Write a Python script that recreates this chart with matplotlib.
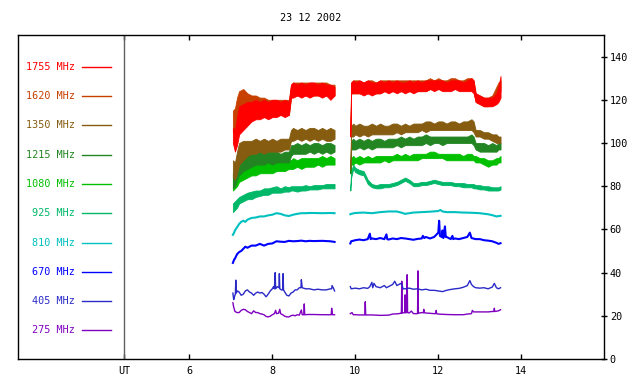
import numpy as np
import matplotlib
matplotlib.use("Agg")
import matplotlib.pyplot as plt

plt.rcParams['font.family'] = ['DejaVu Sans Mono']
plt.rcParams['font.size'] = 7.3

title = "23 12 2002"
freq_labels = ['1755 MHz', '1620 MHz', '1350 MHz', '1215 MHz', '1080 MHz',
               '925 MHz', '810 MHz', '670 MHz', '405 MHz', '275 MHz']
colors = ['#ff0000', '#c84000', '#855c10', '#228522', '#00c000',
          '#00b868', '#00c0c0', '#0000ff', '#2a2ac8', '#8000c0']
x_ticks = [4.434, 6, 8, 10, 12, 14]
x_tick_labels = ['UT', '6', '8', '10', '12', '14']
y_ticks = [0, 20, 40, 60, 80, 100, 120, 140]

# ---- common time grids for the noisy (band) channels, hours UT
T1 = [7.05, 7.1, 7.15, 7.2, 7.3, 7.4, 7.5, 7.6, 7.7, 7.8, 7.9, 8.0, 8.1, 8.2, 8.3, 8.4,
      8.45, 8.5, 8.6, 8.7, 8.8, 8.9, 9.0, 9.1, 9.2, 9.3, 9.4, 9.5]
T2 = [9.88, 9.9, 9.95, 10.0, 10.1, 10.2, 10.3, 10.4, 10.5, 10.6, 10.7, 10.8, 10.9, 11.0,
      11.1, 11.2, 11.3, 11.4, 11.5, 11.6, 11.7, 11.8, 11.9, 12.0, 12.1, 12.2, 12.3, 12.4,
      12.5, 12.6, 12.7, 12.8, 12.85, 12.9, 13.0, 13.1, 13.2, 13.3, 13.4, 13.45, 13.5]

# 1755 MHz (low / high envelope)
f1755_lo1 = [100, 96, 99, 104, 106, 108, 110, 111, 111, 112, 111, 112, 112, 113, 112, 113,
             121, 121, 122, 121, 122, 121, 122, 122, 121, 122, 120, 122]
f1755_hi1 = [107, 106, 112, 117, 118, 119, 119, 120, 119, 120, 119, 120, 120, 119, 120, 119,
             127, 128, 127, 128, 127, 128, 128, 127, 128, 127, 127, 126]
f1755_lo2 = [103, 123, 123, 123, 123, 122, 123, 122, 123, 123, 124, 123, 124, 123, 124, 123,
             124, 123, 124, 124, 124, 125, 124, 125, 124, 124, 124, 125, 124, 124, 124, 124,
             123, 119, 118, 117, 117, 117, 118, 119, 121]
f1755_hi2 = [104, 128, 129, 128, 129, 128, 129, 128, 128, 129, 128, 129, 128, 129, 128, 128,
             129, 128, 129, 128, 129, 129, 129, 129, 129, 128, 129, 129, 129, 128, 129, 130,
             129, 123, 122, 121, 121, 121, 123, 126, 131]

# 1620 MHz
f1620_lo1 = [105, 104, 108, 113, 114, 114, 114, 113, 113, 112, 113, 113, 113, 113, 113, 113,
             121, 122, 122, 122, 122, 122, 122, 122, 122, 122, 121, 122]
f1620_hi1 = [115, 116, 121, 124, 125, 123, 122, 122, 121, 121, 120, 120, 120, 120, 120, 120,
             127, 128, 128, 128, 128, 128, 128, 128, 128, 128, 127, 127]
f1620_lo2 = [104, 123, 123, 123, 123, 123, 123, 123, 123, 123, 124, 124, 124, 124, 124, 124,
             124, 124, 124, 124, 124, 125, 125, 125, 125, 125, 125, 125, 125, 125, 125, 125,
             124, 119, 118, 117, 117, 118, 120, 122, 124]
f1620_hi2 = [104.5, 128, 129, 129, 129, 128, 129, 129, 128, 129, 129, 129, 129, 129, 129, 129,
             129, 129, 129, 129, 129, 130, 129, 130, 129, 129, 130, 130, 129, 129, 130, 130,
             129, 123, 122, 121, 121, 122, 126, 128, 129]

# 1350 MHz
f1350_lo1 = [84, 83, 86, 90, 92, 94, 95, 95, 96, 95, 96, 96, 96, 96, 97, 97,
             101, 101, 102, 101, 102, 101, 102, 101, 102, 101, 101, 102]
f1350_hi1 = [92, 91, 96, 100, 101, 101, 101, 102, 101, 102, 101, 102, 101, 102, 102, 102,
             106, 107, 106, 107, 106, 107, 107, 106, 107, 106, 107, 106]
f1350_lo2 = [88, 103, 103, 104, 103, 104, 103, 104, 104, 104, 104, 104, 104, 105, 104, 105,
             105, 105, 105, 106, 105, 106, 106, 106, 106, 106, 106, 106, 106, 106, 106, 106,
             105, 103, 103, 102, 102, 101, 100, 100, 100]
f1350_hi2 = [90, 108, 109, 108, 109, 108, 108, 109, 108, 109, 108, 108, 109, 109, 108, 109,
             108, 109, 109, 109, 110, 110, 109, 110, 110, 109, 110, 110, 109, 110, 110, 111,
             110, 106, 106, 105, 105, 104, 104, 103, 103]

# 1215 MHz
f1215_lo1 = [79, 80, 83, 85, 87, 88, 89, 90, 90, 90, 91, 90, 91, 91, 91, 91,
             94, 95, 95, 95, 95, 96, 95, 96, 95, 96, 95, 96]
f1215_hi1 = [86, 87, 91, 93, 94, 95, 95, 95, 96, 95, 96, 96, 96, 95, 96, 96,
             99, 99, 100, 99, 100, 99, 100, 100, 99, 100, 100, 99]
f1215_lo2 = [86, 97, 97, 97, 98, 97, 98, 97, 98, 98, 98, 98, 98, 99, 98, 99,
             99, 99, 99, 99, 100, 99, 100, 100, 99, 100, 100, 100, 100, 100, 100, 100,
             99, 97, 96, 96, 96, 96, 96, 97, 97]
f1215_hi2 = [88, 101, 102, 101, 102, 101, 102, 101, 102, 102, 101, 102, 102, 102, 103, 102,
             103, 102, 103, 103, 104, 103, 103, 103, 103, 103, 103, 103, 103, 103, 103, 104,
             103, 100, 100, 100, 99, 100, 99, 100, 100]

# 1080 MHz
f1080_lo1 = [78, 79, 80, 82, 83, 84, 85, 85, 86, 86, 86, 86, 87, 87, 87, 88,
             88, 88, 89, 88, 89, 89, 89, 90, 89, 90, 90, 90]
f1080_hi1 = [86, 87, 88, 89, 90, 90, 90, 91, 90, 91, 91, 91, 91, 92, 92, 92,
             92, 93, 92, 93, 93, 93, 93, 93, 94, 93, 94, 93]
f1080_lo2 = [86, 90, 90, 91, 90, 91, 91, 91, 91, 91, 92, 91, 92, 92, 92, 92,
             92, 92, 92, 93, 93, 93, 93, 93, 93, 92, 92, 92, 92, 92, 92, 92,
             92, 91, 91, 90, 89, 90, 90, 91, 91]
f1080_hi2 = [88, 93, 94, 93, 94, 93, 94, 93, 94, 94, 94, 94, 94, 95, 94, 95,
             94, 95, 95, 95, 95, 96, 96, 95, 95, 95, 95, 95, 95, 94, 95, 95,
             94, 94, 93, 93, 92, 92, 93, 93, 94]

# 925 MHz
f925_lo1 = [68, 69, 70, 72, 73, 74, 74, 75, 75.5, 76, 76, 77, 77, 77, 77.5, 77.5,
            78, 78, 77.5, 78, 78, 78.5, 78.5, 78.5, 79, 79, 79, 79]
f925_hi1 = [72, 73, 74, 75, 76, 77, 77.5, 78, 78, 79, 79, 79.5, 80, 79, 80, 79.5,
            80, 80, 80, 80, 80.5, 80, 80.5, 80.5, 80.5, 81, 81, 81]
f925_lo2 = [78, 84, 88, 86.5, 85.5, 85, 81, 79.5, 79, 79, 79.5, 79.5, 80, 80.5, 81.5, 82.5,
            81.5, 80, 80, 80.5, 80.5, 81, 81.5, 81, 80.5, 80.5, 80.5, 80, 80, 79.5, 79.5, 79.5,
            79, 79, 78.5, 78.5, 78, 78, 78, 78, 78.5]
f925_hi2 = [80, 87, 90, 88.5, 87.5, 87, 83, 81, 80.5, 81, 81, 81, 81.5, 82, 83, 84,
            83, 81.5, 81.5, 82, 82, 82.5, 83, 82.5, 82, 82, 82, 81.5, 81.5, 81.5, 81, 81,
            81, 80.5, 80.5, 80, 80, 79.5, 79.5, 79.5, 80]

# 810 MHz (line)
f810_t1 = [7.05, 7.08, 7.1, 7.15, 7.2, 7.25, 7.3, 7.35, 7.4, 7.5, 7.6, 7.7, 7.8, 7.9, 8.0,
           8.1, 8.2, 8.3, 8.4, 8.5, 8.6, 8.7, 8.8, 8.9, 9.0, 9.2, 9.4, 9.5]
f810_v1 = [57.5, 58.5, 59.5, 61, 62.5, 63.5, 64, 63.5, 64.5, 65.3, 65.5, 66, 66, 66.5, 66.8,
           67.5, 67.2, 66.5, 66.2, 66.8, 67.2, 67.5, 67.5, 67.6, 67.6, 67.5, 67.6, 67.5]
f810_t2 = [9.88, 9.9, 10.0, 10.2, 10.4, 10.6, 10.8, 11.0, 11.1, 11.2, 11.4, 11.6, 11.8, 12.0,
           12.05, 12.1, 12.2, 12.4, 12.6, 12.8, 13.0, 13.2, 13.3, 13.4, 13.5]
f810_v2 = [67, 67.2, 67.6, 67.8, 67.5, 68, 68.3, 68.3, 67.8, 67.2, 67.8, 68, 68.2, 68.5,
           69, 68.3, 68, 68, 67.8, 67.7, 67.5, 67, 66.6, 66, 66.3]

# 670 MHz (line)
f670_t1 = [7.05, 7.08, 7.1, 7.15, 7.2, 7.25, 7.3, 7.35, 7.4, 7.5, 7.6, 7.7, 7.8, 7.9, 8.0,
           8.1, 8.2, 8.3, 8.4, 8.5, 8.6, 8.7, 8.8, 8.9, 9.0, 9.2, 9.4, 9.5]
f670_v1 = [44.5, 46, 46.5, 48.5, 49.5, 50, 51, 52, 51.5, 52.5, 52.5, 53.3, 52.5, 53.3, 53.5,
           54.5, 54.3, 54.2, 54.7, 54.5, 54.6, 54.8, 54.5, 54.7, 54.6, 54.7, 54.5, 54.2]
f670_t2 = [9.88, 9.9, 10.0, 10.1, 10.2, 10.3, 10.35, 10.37, 10.4, 10.5, 10.6, 10.7, 10.75,
           10.77, 10.8, 10.9, 11.0, 11.1, 11.2, 11.3, 11.4, 11.5, 11.6, 11.63, 11.66, 11.7,
           11.8, 11.9, 11.95, 12.0, 12.02, 12.04, 12.08, 12.1, 12.12, 12.16, 12.18, 12.2,
           12.3, 12.34, 12.36, 12.4, 12.5, 12.6, 12.7, 12.76, 12.8, 12.9, 13.0, 13.1, 13.2,
           13.3, 13.4, 13.45, 13.5]
f670_v2 = [53.5, 54.5, 55, 55.3, 55, 55.5, 58, 55.5, 55.8, 55.5, 56, 55.5, 57.7, 55.5, 55.3,
           55.8, 55.5, 56, 55.8, 55.5, 55.2, 55.6, 55.8, 57, 56, 56.5, 55.8, 56.5, 57.5, 58.5,
           64, 57, 56.5, 59.5, 56, 61.4, 56.5, 56.5, 55.5, 57, 55.5, 55.8, 55.5, 56, 56.5,
           58.5, 56, 55.5, 55.5, 55, 54.8, 54.5, 53.8, 53.3, 53.6]

# 405 MHz (line)
f405_t1 = [7.05, 7.07, 7.09, 7.11, 7.12, 7.13, 7.16, 7.2, 7.25, 7.3, 7.35, 7.4, 7.45, 7.5,
           7.55, 7.6, 7.65, 7.7, 7.75, 7.8, 7.85, 7.9, 7.95, 8.0, 8.03, 8.05, 8.07, 8.08,
           8.12, 8.16, 8.17, 8.18, 8.22, 8.25, 8.26, 8.27, 8.3, 8.35, 8.4, 8.45, 8.5, 8.55,
           8.6, 8.65, 8.69, 8.7, 8.72, 8.8, 8.9, 9.0, 9.1, 9.2, 9.3, 9.4, 9.43, 9.44, 9.48, 9.5]
f405_v1 = [30.5, 27.5, 29, 30, 36.5, 30.5, 31.5, 31, 29.5, 30, 31.5, 32, 31, 30.5,
           29.5, 30.5, 31, 30.5, 30.8, 30, 28.8, 30, 31.5, 32.5, 33.5, 32.5, 40, 32.5,
           33.5, 33, 39.5, 32.5, 32, 32, 39.5, 32, 31, 29.5, 29.2, 30.5, 31, 32,
           32, 33, 33, 36.7, 33, 32.5, 32.5, 32, 32.3, 32, 32, 32.5, 32.5, 34, 32.5, 31.5]
f405_t2 = [9.88, 9.9, 10.0, 10.1, 10.2, 10.3, 10.35, 10.4, 10.42, 10.45, 10.5, 10.6, 10.7,
           10.75, 10.8, 10.9, 10.95, 11.0, 11.05, 11.1, 11.13, 11.15, 11.2, 11.3, 11.4, 11.5,
           11.6, 11.7, 11.8, 11.9, 12.0, 12.1, 12.2, 12.3, 12.4, 12.5, 12.6, 12.7, 12.76,
           12.8, 12.85, 12.9, 13.0, 13.1, 13.2, 13.3, 13.35, 13.4, 13.45, 13.5]
f405_v2 = [33.5, 32.5, 32.8, 32.5, 33, 32.7, 33.5, 35.5, 33, 35, 33.5, 33, 34,
           33, 33.5, 34.5, 36, 34, 34.5, 35, 34, 32.5, 32.5, 32.8, 32.3, 32.5,
           32, 32.3, 31.8, 31.8, 31.5, 31.2, 31.8, 32.2, 32.5, 32.7, 33.2, 34, 36.3,
           34.5, 33.5, 33, 32.8, 33, 32.5, 33.3, 35, 33, 32.5, 33]

# 275 MHz (line)
f275_t1 = [7.05, 7.07, 7.1, 7.15, 7.2, 7.25, 7.3, 7.35, 7.4, 7.45, 7.5, 7.55, 7.6, 7.65,
           7.7, 7.75, 7.8, 7.85, 7.9, 7.95, 8.0, 8.05, 8.08, 8.1, 8.15, 8.18, 8.2, 8.25,
           8.3, 8.35, 8.4, 8.45, 8.5, 8.55, 8.6, 8.65, 8.7, 8.72, 8.76, 8.77, 8.78, 8.85,
           9.0, 9.2, 9.35, 9.42, 9.43, 9.45, 9.5]
f275_v1 = [26, 24, 22, 21.5, 21.5, 22.5, 23, 22.8, 22, 21.5, 21, 22.3, 21.5, 21.5,
           21, 20.8, 20.5, 19.7, 19.5, 19.8, 20.5, 21, 22.5, 21, 21.2, 23, 21, 20.5,
           19.8, 19.5, 19.5, 20, 20.3, 20, 20.5, 20.3, 22.7, 20.5, 20.5, 25.5, 20.5, 20.6,
           20.6, 20.5, 20.5, 20.5, 23.5, 20.5, 20.5]
f275_t2 = [9.88, 9.92, 9.95, 10.0, 10.1, 10.2, 10.23, 10.24, 10.25, 10.4, 10.6, 10.8, 10.9,
           11.0, 11.05, 11.1, 11.11, 11.12, 11.13, 11.17, 11.19, 11.2, 11.21, 11.24, 11.25,
           11.26, 11.3, 11.35, 11.4, 11.49, 11.5, 11.505, 11.51, 11.52, 11.6, 11.64, 11.65,
           11.66, 11.7, 11.9, 11.94, 11.95, 11.96, 12.0, 12.2, 12.4, 12.6, 12.7, 12.8, 12.82,
           12.85, 12.9, 13.0, 13.2, 13.3, 13.34, 13.35, 13.36, 13.45, 13.5]
f275_v2 = [21, 21.5, 20.5, 20.5, 20.4, 20.4, 20.4, 26.5, 20.4, 20.4, 20.2, 20.3, 20.8,
           20.9, 21, 21.2, 21.2, 36, 21.2, 21.5, 21.4, 29.7, 21.4, 21.5, 39,
           21.5, 21.3, 22.2, 21, 21, 21, 30.8, 40.8, 21.2, 21.5, 21.4, 23,
           21.4, 21.3, 21, 21, 22.5, 21, 20.8, 20.6, 20.5, 20.5, 20.8, 21, 22.5,
           21.8, 21.8, 21.8, 21.8, 22, 22, 23.5, 22, 22.3, 22.8]

fig = plt.figure(figsize=(6.4, 3.84), dpi=100)
ax = fig.add_axes([18 / 640, 25 / 384, (604.3 - 18) / 640, (359 - 35) / 384])
ax.set_xlim(1.872, 16)
ax.set_ylim(0, 150)

# thin line channels (lowest frequencies first)
ax.plot(f275_t1, f275_v1, color=colors[9], lw=1.0)
ax.plot(f275_t2, f275_v2, color=colors[9], lw=1.0)
ax.plot(f405_t1, f405_v1, color=colors[8], lw=1.0)
ax.plot(f405_t2, f405_v2, color=colors[8], lw=1.0)
ax.plot(f670_t1, f670_v1, color=colors[7], lw=1.5)
ax.plot(f670_t2, f670_v2, color=colors[7], lw=1.5)
ax.plot(f810_t1, f810_v1, color=colors[6], lw=1.5)
ax.plot(f810_t2, f810_v2, color=colors[6], lw=1.5)

bands = [
    (f925_lo1, f925_hi1, f925_lo2, f925_hi2, colors[5]),
    (f1080_lo1, f1080_hi1, f1080_lo2, f1080_hi2, colors[4]),
    (f1215_lo1, f1215_hi1, f1215_lo2, f1215_hi2, colors[3]),
    (f1350_lo1, f1350_hi1, f1350_lo2, f1350_hi2, colors[2]),
    (f1620_lo1, f1620_hi1, f1620_lo2, f1620_hi2, colors[1]),
    (f1755_lo1, f1755_hi1, f1755_lo2, f1755_hi2, colors[0]),
]
for lo1, hi1, lo2, hi2, c in bands:
    ax.fill_between(T1, lo1, hi1, color=c, lw=0.6, edgecolor=c)
    ax.fill_between(T2, lo2, hi2, color=c, lw=0.6, edgecolor=c)

# UT separator and legend area
ax.axvline(x_ticks[0], color='#606060', lw=1.0)
leg_y = np.linspace(135.2, 13.3, len(freq_labels))
for lab, c, yy in zip(freq_labels, colors, leg_y):
    ax.text(3.246, yy, lab, color=c, ha='right', va='center')
    ax.plot([3.414, 4.106], [yy, yy], color=c, lw=1.0)

ax.set_xticks(x_ticks)
ax.set_xticklabels(x_tick_labels)
ax.set_yticks(y_ticks)
ax.yaxis.tick_right()
ax.tick_params(axis='x', direction='in', length=3.5, top=True, bottom=True, pad=5,
               width=1.0)
ax.tick_params(axis='y', direction='inout', length=5, left=False, right=True, pad=1.5,
               width=1.0)
for s in ax.spines.values():
    s.set_linewidth(1.0)

fig.text(311 / 640, 1 - 17.7 / 384, title, ha='center', va='center')

fig.savefig('out.png', dpi=100, facecolor='white')
